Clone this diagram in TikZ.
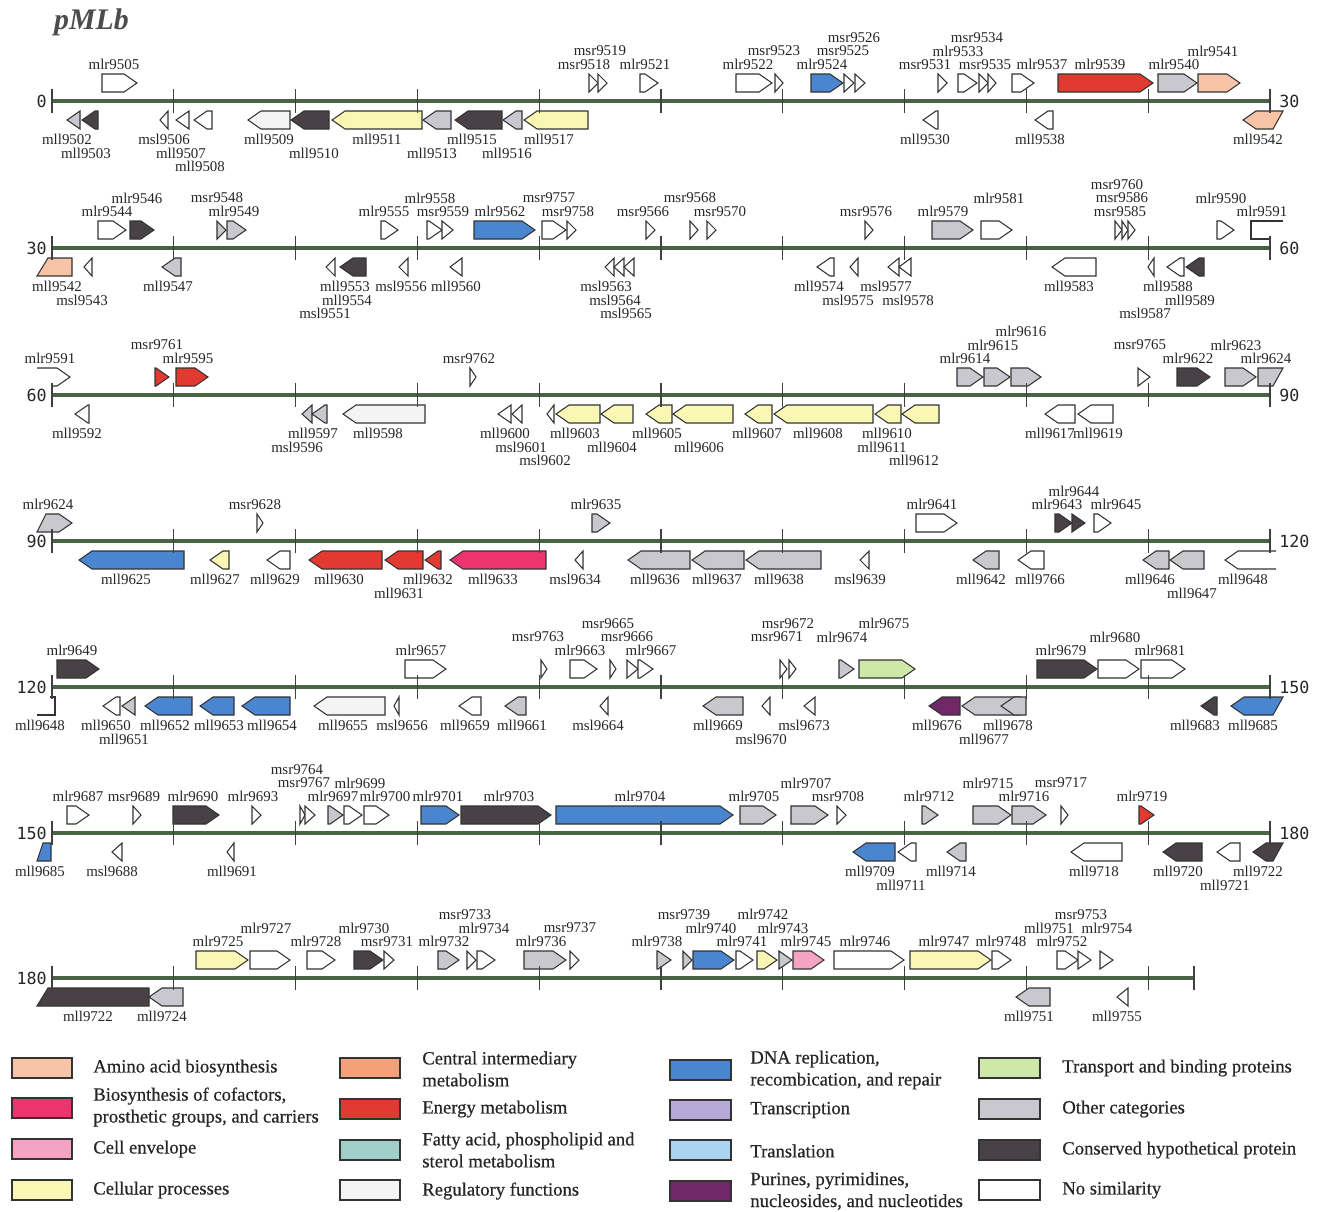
\documentclass[tikz,border=0pt]{standalone}
\usepackage{fontspec}
\setmainfont{Liberation Serif}
\newfontfamily\numfont{DejaVu Sans Mono}
\newfontfamily\legfont[FakeBold=0.5]{Liberation Serif}
\definecolor{cW}{RGB}{255,255,255}
\definecolor{cReg}{RGB}{244,244,244}
\definecolor{cOth}{RGB}{200,200,206}
\definecolor{cCon}{RGB}{72,66,70}
\definecolor{cCel}{RGB}{250,246,180}
\definecolor{cDna}{RGB}{74,134,208}
\definecolor{cEne}{RGB}{226,58,48}
\definecolor{cAmi}{RGB}{248,196,168}
\definecolor{cCof}{RGB}{236,52,110}
\definecolor{cEnv}{RGB}{244,164,194}
\definecolor{cTra}{RGB}{206,232,170}
\definecolor{cPur}{RGB}{112,40,104}
\definecolor{cCen}{RGB}{244,160,120}
\definecolor{cFat}{RGB}{160,206,200}
\definecolor{cTrc}{RGB}{184,170,216}
\definecolor{cTrl}{RGB}{170,212,240}
\definecolor{cLine}{RGB}{72,100,68}
\newcommand\lblfont{\fontsize{8.5}{9}\selectfont}
% genes: x1, x2, fill; forward above the line, reverse below
\newcommand{\fgene}[3]{\draw[gene,fill=#3] (#1,\ty-27) -- ({max(#1,#2-13)},\ty-27) -- (#2,\ty-18) -- ({max(#1,#2-13)},\ty-9) -- (#1,\ty-9) -- cycle;}
\newcommand{\rgene}[3]{\draw[gene,fill=#3] (#2,\ty+10) -- ({min(#2,#1+13)},\ty+10) -- (#1,\ty+19) -- ({min(#2,#1+13)},\ty+28) -- (#2,\ty+28) -- cycle;}
% labels: x, row, text
\newcommand{\tlab}[3]{\node[lbl] (#3-\ty t) at (#1,{\ty-23-13.5*#2}) {#3};}
\newcommand{\blab}[3]{\node[lbl] (#3-\ty b) at (#1,{\ty+25+13.5*#2}) {#3};}
\begin{document}
\begin{tikzpicture}[x=0.02cm, y=-0.02cm,
    gene/.style={draw=black!80, line width=0.6pt},
    lbl/.style={font=\lblfont, text=black!85, inner sep=0pt},
    axis/.style={draw=cLine, line width=2.4pt},
    tick/.style={draw=black!75, line width=0.7pt},
    num/.style={font=\numfont\fontsize{9.5}{10}\selectfont, text=black!85, inner sep=0pt},
    swatch/.style={draw=black!80, line width=0.6pt},
    legtext/.style={font=\legfont\fontsize{10.6}{12.5}\selectfont, text=black!85, anchor=west, align=left, inner sep=0pt}]
  \useasboundingbox (0,0) rectangle (1317,1211);
  \node[font=\fontsize{17}{17}\selectfont\bfseries\itshape, text=black!70, anchor=west] (title) at (48,22) {pMLb};

  % backbone
  \foreach \ty/\a/\b in {101/0/30, 248/30/60, 395/60/90, 541/90/120, 687/120/150, 833/150/180} {
    \draw[axis] (52,\ty) -- (1270,\ty);
    \node[num, anchor=east] (s\a) at (47,\ty) {\a};
    \node[num, anchor=west] (e\b) at (1279,\ty) {\b};
  }
  \draw[axis] (52,978) -- (1194,978);
  \node[num, anchor=east] (s180) at (47,978) {180};

  % 0 - 30
  \def\ty{101}
  \fgene{102}{137}{cW} \fgene{589}{598}{cW} \fgene{598}{607}{cW} \fgene{640}{658}{cW}
  \fgene{736}{772}{cW} \fgene{775}{783}{cW} \fgene{811}{843}{cDna} \fgene{844}{854}{cW} \fgene{855}{865}{cW}
  \fgene{938}{947}{cW} \fgene{958}{977}{cW} \fgene{979}{988}{cW} \fgene{988}{996}{cW} \fgene{1012}{1034}{cW}
  \fgene{1058}{1153}{cEne} \fgene{1158}{1197}{cOth} \fgene{1198}{1240}{cAmi}
  \rgene{67}{80}{cOth} \rgene{82}{98}{cCon} \rgene{160}{168}{cW} \rgene{176}{189}{cW} \rgene{194}{212}{cW}
  \rgene{248}{290}{cReg} \rgene{291}{329}{cCon} \rgene{332}{422}{cCel} \rgene{423}{451}{cOth} \rgene{455}{502}{cCon}
  \rgene{503}{522}{cOth} \rgene{524}{588}{cCel} \rgene{923}{938}{cW} \rgene{1035}{1053}{cW}
  \draw[gene,fill=cAmi] (1243,\ty+19) -- (1256,\ty+10) -- (1283,\ty+10) -- (1273,\ty+28) -- (1256,\ty+28) -- cycle;
  \tlab{114}{1}{mlr9505} \tlab{584}{1}{msr9518} \tlab{600}{2}{msr9519} \tlab{645}{1}{mlr9521}
  \tlab{748}{1}{mlr9522} \tlab{774}{2}{msr9523} \tlab{822}{1}{mlr9524} \tlab{843}{2}{msr9525} \tlab{854}{3}{msr9526}
  \tlab{925}{1}{msr9531} \tlab{958}{2}{mlr9533} \tlab{977}{3}{msr9534} \tlab{985}{1}{msr9535} \tlab{1042}{1}{mlr9537}
  \tlab{1100}{1}{mlr9539} \tlab{1174}{1}{mlr9540} \tlab{1213}{2}{mlr9541}
  \blab{67}{1}{mll9502} \blab{86}{2}{mll9503} \blab{164}{1}{msl9506} \blab{181}{2}{mll9507} \blab{200}{3}{mll9508}
  \blab{269}{1}{mll9509} \blab{314}{2}{mll9510} \blab{377}{1}{mll9511} \blab{432}{2}{mll9513} \blab{472}{1}{mll9515}
  \blab{507}{2}{mll9516} \blab{549}{1}{mll9517} \blab{925}{1}{mll9530} \blab{1040}{1}{mll9538} \blab{1258}{1}{mll9542}

  % 30 - 60
  \def\ty{248}
  \fgene{98}{126}{cW} \fgene{130}{154}{cCon} \fgene{217}{226}{cOth} \fgene{227}{246}{cOth}
  \fgene{381}{398}{cW} \fgene{427}{442}{cW} \fgene{442}{453}{cW} \fgene{474}{535}{cDna} \fgene{542}{566}{cW} \fgene{567}{576}{cW}
  \fgene{646}{655}{cW} \fgene{690}{698}{cW} \fgene{707}{716}{cW} \fgene{865}{873}{cW} \fgene{932}{973}{cOth} \fgene{981}{1012}{cW}
  \fgene{1115}{1122}{cW} \fgene{1122}{1128}{cW} \fgene{1128}{1135}{cW} \fgene{1217}{1234}{cW}
  \draw[gene] (1283,\ty-27) -- (1251,\ty-27) -- (1251,\ty-9) -- (1271,\ty-9);
  \draw[gene,fill=cAmi] (48,\ty+10) -- (72,\ty+10) -- (72,\ty+28) -- (37,\ty+28) -- cycle;
  \rgene{84}{92}{cW} \rgene{162}{181}{cOth} \rgene{326}{335}{cW} \rgene{340}{366}{cCon} \rgene{399}{408}{cW} \rgene{450}{462}{cW}
  \rgene{605}{614}{cW} \rgene{614}{624}{cW} \rgene{624}{634}{cW} \rgene{817}{834}{cW} \rgene{850}{858}{cW}
  \rgene{888}{899}{cW} \rgene{899}{911}{cW} \rgene{1052}{1096}{cW} \rgene{1148}{1154}{cW} \rgene{1167}{1184}{cW} \rgene{1186}{1204}{cCon}
  \tlab{107}{1}{mlr9544} \tlab{137}{2}{mlr9546} \tlab{217}{2}{msr9548} \tlab{234}{1}{mlr9549}
  \tlab{384}{1}{mlr9555} \tlab{430}{2}{mlr9558} \tlab{443}{1}{msr9559} \tlab{500}{1}{mlr9562} \tlab{549}{2}{msr9757} \tlab{568}{1}{msr9758}
  \tlab{643}{1}{msr9566} \tlab{690}{2}{msr9568} \tlab{720}{1}{msr9570} \tlab{866}{1}{msr9576} \tlab{943}{1}{mlr9579} \tlab{999}{2}{mlr9581}
  \tlab{1120}{1}{msr9585} \tlab{1122}{2}{msr9586} \tlab{1117}{3}{msr9760} \tlab{1221}{2}{mlr9590} \tlab{1262}{1}{mlr9591}
  \blab{57}{1}{mll9542} \blab{82}{2}{msl9543} \blab{168}{1}{mll9547} \blab{325}{3}{msl9551} \blab{345}{1}{mll9553} \blab{347}{2}{mll9554}
  \blab{401}{1}{msl9556} \blab{456}{1}{mll9560} \blab{606}{1}{msl9563} \blab{615}{2}{msl9564} \blab{626}{3}{msl9565}
  \blab{819}{1}{mll9574} \blab{848}{2}{msl9575} \blab{886}{1}{msl9577} \blab{908}{2}{msl9578} \blab{1069}{1}{mll9583}
  \blab{1145}{3}{msl9587} \blab{1168}{1}{mll9588} \blab{1190}{2}{mll9589}

  % 60 - 90
  \def\ty{395}
  \draw[gene] (37,\ty-27) -- (57,\ty-27) -- (70,\ty-18) -- (57,\ty-9) -- (52,\ty-9);
  \fgene{155}{169}{cEne} \fgene{176}{208}{cEne} \fgene{470}{476}{cW} \fgene{957}{983}{cOth} \fgene{984}{1010}{cOth} \fgene{1011}{1041}{cOth}
  \fgene{1138}{1150}{cW} \fgene{1177}{1210}{cCon} \fgene{1225}{1256}{cOth}
  \draw[gene,fill=cOth] (1258,\ty-27) -- (1283,\ty-27) -- (1273,\ty-9) -- (1258,\ty-9) -- cycle;
  \rgene{75}{89}{cW} \rgene{302}{312}{cOth} \rgene{312}{327}{cOth} \rgene{343}{425}{cReg} \rgene{498}{511}{cW} \rgene{512}{522}{cW}
  \rgene{547}{554}{cW} \rgene{556}{600}{cCel} \rgene{601}{633}{cCel} \rgene{646}{672}{cCel} \rgene{673}{733}{cCel} \rgene{745}{772}{cCel}
  \rgene{774}{873}{cCel} \rgene{875}{901}{cCel} \rgene{902}{939}{cCel} \rgene{1045}{1075}{cW} \rgene{1078}{1113}{cW}
  \tlab{50}{1}{mlr9591} \tlab{157}{2}{msr9761} \tlab{188}{1}{mlr9595} \tlab{469}{1}{msr9762} \tlab{965}{1}{mlr9614} \tlab{993}{2}{mlr9615}
  \tlab{1021}{3}{mlr9616} \tlab{1140}{2}{msr9765} \tlab{1188}{1}{mlr9622} \tlab{1236}{2}{mlr9623} \tlab{1266}{1}{mlr9624}
  \blab{77}{1}{mll9592} \blab{313}{1}{mll9597} \blab{297}{2}{msl9596} \blab{378}{1}{mll9598} \blab{505}{1}{mll9600} \blab{521}{2}{msl9601}
  \blab{545}{3}{msl9602} \blab{575}{1}{mll9603} \blab{612}{2}{mll9604} \blab{657}{1}{mll9605} \blab{699}{2}{mll9606} \blab{757}{1}{mll9607}
  \blab{818}{1}{mll9608} \blab{887}{1}{mll9610} \blab{882}{2}{mll9611} \blab{914}{3}{mll9612} \blab{1050}{1}{mll9617} \blab{1098}{1}{mll9619}

  % 90 - 120
  \def\ty{541}
  \draw[gene,fill=cOth] (46,\ty-27) -- (59,\ty-27) -- (72,\ty-18) -- (59,\ty-9) -- (37,\ty-9) -- cycle;
  \fgene{257}{263}{cW} \fgene{592}{610}{cOth} \fgene{916}{957}{cW} \fgene{1055}{1072}{cCon} \fgene{1072}{1085}{cCon} \fgene{1094}{1111}{cW}
  \rgene{79}{184}{cDna} \rgene{210}{229}{cCel} \rgene{267}{290}{cW} \rgene{309}{382}{cEne} \rgene{385}{423}{cEne} \rgene{425}{441}{cEne}
  \rgene{450}{546}{cCof} \rgene{575}{583}{cW} \rgene{628}{690}{cOth} \rgene{692}{744}{cOth} \rgene{746}{821}{cOth} \rgene{860}{869}{cW}
  \rgene{973}{999}{cOth} \rgene{1018}{1044}{cW} \rgene{1143}{1169}{cOth} \rgene{1170}{1204}{cOth}
  \draw[gene] (1276,\ty+10) -- (1238,\ty+10) -- (1225,\ty+19) -- (1238,\ty+28) -- (1276,\ty+28);
  \tlab{48}{1}{mlr9624} \tlab{255}{1}{msr9628} \tlab{596}{1}{mlr9635} \tlab{932}{1}{mlr9641} \tlab{1057}{1}{mlr9643}
  \tlab{1074}{2}{mlr9644} \tlab{1116}{1}{mlr9645}
  \blab{126}{1}{mll9625} \blab{215}{1}{mll9627} \blab{275}{1}{mll9629} \blab{339}{1}{mll9630} \blab{399}{2}{mll9631} \blab{428}{1}{mll9632}
  \blab{493}{1}{mll9633} \blab{575}{1}{msl9634} \blab{655}{1}{mll9636} \blab{717}{1}{mll9637} \blab{779}{1}{mll9638} \blab{860}{1}{msl9639}
  \blab{981}{1}{mll9642} \blab{1040}{1}{mll9766} \blab{1150}{1}{mll9646} \blab{1192}{2}{mll9647} \blab{1243}{1}{mll9648}

  % 120 - 150
  \def\ty{687}
  \fgene{57}{99}{cCon} \fgene{405}{446}{cW} \fgene{541}{547}{cW} \fgene{570}{597}{cW} \fgene{610}{616}{cW} \fgene{627}{638}{cW}
  \fgene{638}{653}{cW} \fgene{780}{787}{cW} \fgene{789}{796}{cW} \fgene{839}{854}{cOth} \fgene{859}{915}{cTra}
  \fgene{1037}{1097}{cCon} \fgene{1098}{1139}{cW} \fgene{1141}{1185}{cW}
  \draw[gene] (50,\ty+10) -- (55,\ty+10) -- (55,\ty+28) -- (37,\ty+28);
  \rgene{103}{120}{cW} \rgene{122}{135}{cOth} \rgene{145}{192}{cDna} \rgene{200}{234}{cDna} \rgene{242}{290}{cDna} \rgene{314}{385}{cReg}
  \rgene{394}{399}{cW} \rgene{459}{481}{cW} \rgene{505}{526}{cOth} \rgene{600}{608}{cW} \rgene{703}{743}{cOth} \rgene{762}{770}{cW}
  \rgene{804}{815}{cW} \rgene{929}{960}{cPur} \rgene{962}{1020}{cOth} \rgene{1001}{1026}{cOth} \rgene{1201}{1217}{cCon}
  \draw[gene,fill=cDna] (1231,\ty+19) -- (1244,\ty+10) -- (1283,\ty+10) -- (1273,\ty+28) -- (1244,\ty+28) -- cycle;
  \tlab{72}{1}{mlr9649} \tlab{421}{1}{mlr9657} \tlab{538}{2}{msr9763} \tlab{580}{1}{mlr9663} \tlab{608}{3}{msr9665} \tlab{627}{2}{msr9666}
  \tlab{651}{1}{mlr9667} \tlab{777}{2}{msr9671} \tlab{788}{3}{msr9672} \tlab{842}{2}{mlr9674} \tlab{884}{3}{mlr9675}
  \tlab{1061}{1}{mlr9679} \tlab{1115}{2}{mlr9680} \tlab{1160}{1}{mlr9681}
  \blab{40}{1}{mll9648} \blab{106}{1}{mll9650} \blab{124}{2}{mll9651} \blab{165}{1}{mll9652} \blab{219}{1}{mll9653} \blab{272}{1}{mll9654}
  \blab{343}{1}{mll9655} \blab{402}{1}{msl9656} \blab{465}{1}{mll9659} \blab{522}{1}{mll9661} \blab{598}{1}{msl9664} \blab{718}{1}{mll9669}
  \blab{761}{2}{msl9670} \blab{804}{1}{msl9673} \blab{937}{1}{mll9676} \blab{984}{2}{mll9677} \blab{1008}{1}{mll9678}
  \blab{1195}{1}{mll9683} \blab{1253}{1}{mll9685}

  % 150 - 180
  \def\ty{833}
  \fgene{67}{89}{cW} \fgene{133}{141}{cW} \fgene{173}{219}{cCon} \fgene{252}{261}{cW} \fgene{300}{305}{cW} \fgene{305}{315}{cW}
  \fgene{328}{343}{cOth} \fgene{344}{362}{cW} \fgene{364}{389}{cW} \fgene{421}{459}{cDna} \fgene{461}{551}{cCon} \fgene{556}{733}{cDna}
  \fgene{740}{776}{cOth} \fgene{791}{828}{cOth} \fgene{837}{846}{cW} \fgene{922}{938}{cOth} \fgene{973}{1011}{cOth} \fgene{1012}{1046}{cOth}
  \fgene{1061}{1068}{cW} \fgene{1139}{1154}{cEne}
  \draw[gene,fill=cDna] (43,\ty+10) -- (51,\ty+10) -- (51,\ty+28) -- (37,\ty+28) -- cycle;
  \rgene{112}{122}{cW} \rgene{227}{234}{cW} \rgene{853}{895}{cDna} \rgene{898}{916}{cW} \rgene{947}{966}{cOth} \rgene{1071}{1122}{cW}
  \rgene{1163}{1202}{cCon} \rgene{1217}{1240}{cW}
  \draw[gene,fill=cCon] (1253,\ty+19) -- (1266,\ty+10) -- (1283,\ty+10) -- (1273,\ty+28) -- (1266,\ty+28) -- cycle;
  \tlab{78}{1}{mlr9687} \tlab{134}{1}{msr9689} \tlab{193}{1}{mlr9690} \tlab{253}{1}{mlr9693} \tlab{297}{3}{msr9764} \tlab{304}{2}{msr9767}
  \tlab{360}{2}{mlr9699} \tlab{333}{1}{mlr9697} \tlab{385}{1}{mlr9700} \tlab{438}{1}{mlr9701} \tlab{509}{1}{mlr9703} \tlab{640}{1}{mlr9704}
  \tlab{754}{1}{mlr9705} \tlab{806}{2}{mlr9707} \tlab{838}{1}{msr9708} \tlab{929}{1}{mlr9712} \tlab{988}{2}{mlr9715} \tlab{1024}{1}{mlr9716}
  \tlab{1061}{2}{msr9717} \tlab{1142}{1}{mlr9719}
  \blab{40}{1}{mll9685} \blab{112}{1}{msl9688} \blab{232}{1}{mll9691} \blab{870}{1}{mll9709} \blab{901}{2}{mll9711} \blab{951}{1}{mll9714}
  \blab{1094}{1}{mll9718} \blab{1178}{1}{mll9720} \blab{1225}{2}{mll9721} \blab{1258}{1}{mll9722}

  % 180 - end
  \def\ty{978}
  \fgene{196}{248}{cCel} \fgene{250}{290}{cW} \fgene{307}{335}{cW} \fgene{354}{383}{cCon} \fgene{384}{394}{cW} \fgene{438}{459}{cOth}
  \fgene{467}{476}{cW} \fgene{477}{495}{cW} \fgene{524}{566}{cOth} \fgene{570}{579}{cW} \fgene{657}{671}{cOth} \fgene{683}{692}{cOth}
  \fgene{693}{734}{cDna} \fgene{736}{753}{cW} \fgene{757}{777}{cCel} \fgene{779}{792}{cOth} \fgene{793}{824}{cEnv} \fgene{834}{904}{cW}
  \fgene{910}{991}{cCel} \fgene{992}{1011}{cW} \fgene{1057}{1078}{cW} \fgene{1078}{1091}{cW} \fgene{1100}{1113}{cW}
  \draw[gene,fill=cCon] (48,\ty+10) -- (149,\ty+10) -- (149,\ty+28) -- (37,\ty+28) -- cycle;
  \rgene{149}{183}{cOth} \rgene{1016}{1050}{cOth} \rgene{1117}{1128}{cW}
  \tlab{218}{1}{mlr9725} \tlab{266}{2}{mlr9727} \tlab{316}{1}{mlr9728} \tlab{364}{2}{mlr9730} \tlab{387}{1}{msr9731} \tlab{444}{1}{mlr9732}
  \tlab{465}{3}{msr9733} \tlab{484}{2}{mlr9734} \tlab{541}{1}{mlr9736} \tlab{570}{2}{msr9737} \tlab{657}{1}{mlr9738} \tlab{684}{3}{msr9739}
  \tlab{711}{2}{mlr9740} \tlab{742}{1}{mlr9741} \tlab{763}{3}{mlr9742} \tlab{783}{2}{mlr9743} \tlab{806}{1}{mlr9745} \tlab{865}{1}{mlr9746}
  \tlab{944}{1}{mlr9747} \tlab{1001}{1}{mlr9748} \tlab{1062}{1}{mlr9752} \tlab{1049}{2}{mll9751} \tlab{1107}{2}{mlr9754} \tlab{1081}{3}{msr9753}
  \blab{88}{1}{mll9722} \blab{162}{1}{mll9724} \blab{1029}{1}{mll9751} \blab{1117}{1}{mll9755}

  % ticks every 3 kb
  \foreach \ty in {101,248,395,541,687,833}
    \foreach \k in {0,...,10}
      \draw[tick] ({52+121.8*\k},\ty-12) -- ++(0,24);
  \foreach \k in {0,...,9}
    \draw[tick] ({52+121.8*\k},966) -- ++(0,24);
  \draw[tick] (1194,966) -- ++(0,24);

  % legend
  \draw[swatch,fill=cAmi] (12,1058) rectangle (72,1078);
  \draw[swatch,fill=cCof] (12,1098) rectangle (72,1118);
  \draw[swatch,fill=cEnv] (12,1139) rectangle (72,1159);
  \draw[swatch,fill=cCel] (12,1180) rectangle (72,1200);
  \draw[swatch,fill=cCen] (340,1058) rectangle (400,1078);
  \draw[swatch,fill=cEne] (340,1099) rectangle (400,1119);
  \draw[swatch,fill=cFat] (340,1140) rectangle (400,1160);
  \draw[swatch,fill=cReg] (340,1180) rectangle (400,1200);
  \draw[swatch,fill=cDna] (670,1060) rectangle (731,1080);
  \draw[swatch,fill=cTrc] (670,1100) rectangle (731,1120);
  \draw[swatch,fill=cTrl] (670,1140) rectangle (731,1160);
  \draw[swatch,fill=cPur] (670,1181) rectangle (731,1201);
  \draw[swatch,fill=cTra] (979,1058) rectangle (1040,1078);
  \draw[swatch,fill=cOth] (979,1099) rectangle (1040,1119);
  \draw[swatch,fill=cCon] (979,1140) rectangle (1040,1160);
  \draw[swatch,fill=cW] (979,1180) rectangle (1040,1200);
  \node[legtext] (amino) at (93,1068) {Amino acid biosynthesis};
  \node[legtext] (cofac) at (93,1107) {Biosynthesis of cofactors,\\prosthetic groups, and carriers};
  \node[legtext] (envel) at (93,1149) {Cell envelope};
  \node[legtext] (cellp) at (93,1190) {Cellular processes};
  \node[legtext] (centr) at (422,1069) {Central intermediary\\metabolism};
  \node[legtext] (energ) at (422,1109) {Energy metabolism};
  \node[legtext] (fatty) at (422,1150) {Fatty acid, phospholipid and\\sterol metabolism};
  \node[legtext] (regul) at (422,1191) {Regulatory functions};
  \node[legtext] (dnare) at (750,1070) {DNA replication,\\recombication, and repair};
  \node[legtext] (trscr) at (750,1110) {Transcription};
  \node[legtext] (trsla) at (750,1151) {Translation};
  \node[legtext] (purin) at (750,1191) {Purines, pyrimidines,\\nucleosides, and nucleotides};
  \node[legtext] (trans) at (1062,1068) {Transport and binding proteins};
  \node[legtext] (other) at (1062,1109) {Other categories};
  \node[legtext] (conse) at (1062,1150) {Conserved hypothetical protein};
  \node[legtext] (nosim) at (1062,1190) {No similarity};
\end{tikzpicture}
\end{document}
